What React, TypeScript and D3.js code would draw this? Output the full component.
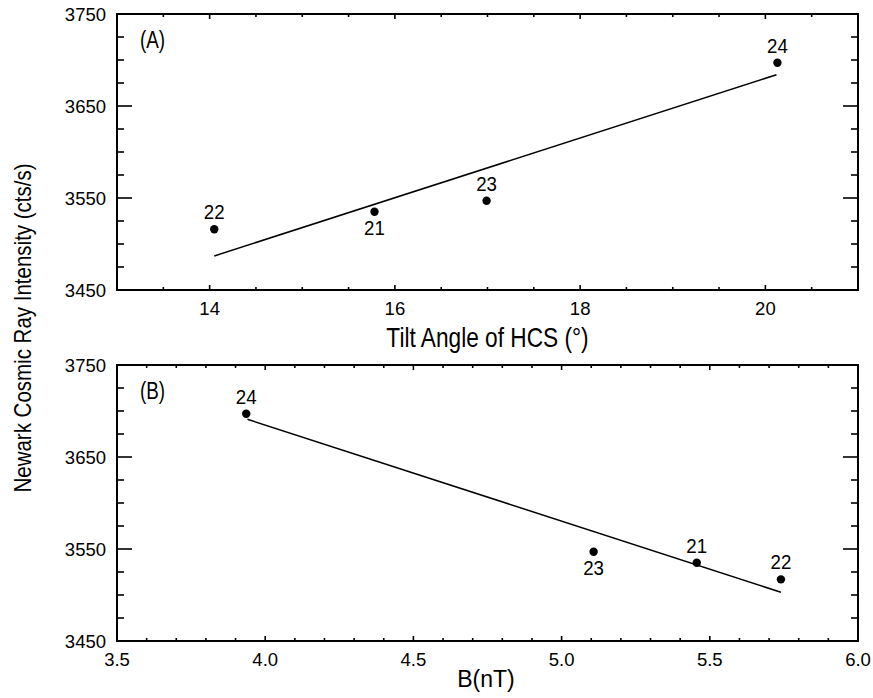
import React from "react";
import * as d3 from "d3";

// Solar cycle numbers labelling each point
const cyclesA = ["21", "22", "23", "24"];
const tiltA = [15.78, 14.05, 16.99, 20.13];
const intensityA = [3535, 3516, 3547, 3697];
const labelBelowA = [true, false, false, false];
const fitA: [number, number][] = [[14.05, 3487], [20.12, 3684]];

const cyclesB = ["21", "22", "23", "24"];
const fieldB = [5.456, 5.74, 5.108, 3.936];
const intensityB = [3535, 3517, 3547, 3697];
const labelBelowB = [false, false, true, false];
const fitB: [number, number][] = [[3.94, 3691], [5.74, 3503]];

const yTicks = [3450, 3550, 3650, 3750];
const xTicksA = [14, 16, 18, 20];
const xTicksB = [3.5, 4.0, 4.5, 5.0, 5.5, 6.0];

const FONT = "'Liberation Sans', Arial, Helvetica, sans-serif";

// Condensed text: font size sets the height, sx narrows the glyphs
function T(props: {
  x: number;
  y: number;
  size: number;
  sx?: number;
  anchor?: "start" | "middle" | "end";
  rotate?: number;
  children: React.ReactNode;
}) {
  const { x, y, size, sx = 1, anchor = "start", rotate = 0, children } = props;
  return (
    <text
      transform={`translate(${x},${y}) rotate(${rotate}) scale(${sx},1)`}
      textAnchor={anchor}
      fontSize={size}
      fontFamily={FONT}
      fill="#000"
    >
      {children}
    </text>
  );
}

type PanelProps = {
  top: number;
  bottom: number;
  xDomain: [number, number];
  xMajor: number[];
  xMinor: number[];
  xFmt: (v: number) => string;
  xs: number[];
  ys: number[];
  cycles: string[];
  below: boolean[];
  fit: [number, number][];
  tag: string;
};

const left = 117;
const right = 858;

function Panel(p: PanelProps) {
  const x = d3.scaleLinear().domain(p.xDomain).range([left, right]);
  const y = d3.scaleLinear().domain([3450, 3750]).range([p.bottom, p.top]);
  const yMinor = d3.range(3450, 3751, 25).filter((v) => (v - 3450) % 100 !== 0);
  const line = d3.line<[number, number]>().x((d) => x(d[0])).y((d) => y(d[1]));
  const tickStroke = { stroke: "#000", strokeWidth: 1.6 };
  return (
    <g>
      {yTicks.map((t) => (
        <g key={"y" + t}>
          <line x1={left} x2={left + 15} y1={y(t)} y2={y(t)} {...tickStroke} />
          <line x1={right} x2={right - 15} y1={y(t)} y2={y(t)} {...tickStroke} />
          <T x={106} y={y(t) + 6.7} size={18.5} anchor="end">
            {t}
          </T>
        </g>
      ))}
      {yMinor.map((t) => (
        <g key={"ym" + t}>
          <line x1={left} x2={left + 7} y1={y(t)} y2={y(t)} {...tickStroke} />
          <line x1={right} x2={right - 7} y1={y(t)} y2={y(t)} {...tickStroke} />
        </g>
      ))}
      {p.xMajor.map((t) => (
        <g key={"x" + t}>
          <line x1={x(t)} x2={x(t)} y1={p.bottom} y2={p.bottom - 5} {...tickStroke} />
          <line x1={x(t)} x2={x(t)} y1={p.top} y2={p.top + 5} {...tickStroke} />
          <T x={x(t)} y={p.bottom + 25} size={18.5} anchor="middle">
            {p.xFmt(t)}
          </T>
        </g>
      ))}
      {p.xMinor.map((t) => (
        <g key={"xm" + t}>
          <line x1={x(t)} x2={x(t)} y1={p.bottom} y2={p.bottom - 3} {...tickStroke} />
          <line x1={x(t)} x2={x(t)} y1={p.top} y2={p.top + 3} {...tickStroke} />
        </g>
      ))}
      <rect x={left} y={p.top} width={right - left} height={p.bottom - p.top} fill="none" stroke="#000" strokeWidth={2} />
      <T x={140} y={p.top + 34} size={23} sx={0.82}>
        {p.tag}
      </T>
      <path d={line(p.fit) || ""} fill="none" stroke="#000" strokeWidth={1.5} />
      {p.xs.map((v, i) => (
        <g key={"p" + i}>
          <circle cx={x(v)} cy={y(p.ys[i])} r={4.2} fill="#000" />
          <T
            x={x(v)}
            y={p.below[i] ? y(p.ys[i]) + 23 : y(p.ys[i]) - 10}
            size={21}
            sx={0.89}
            anchor="middle"
          >
            {p.cycles[i]}
          </T>
        </g>
      ))}
    </g>
  );
}

export default function App() {
  const minorA = d3.range(13.5, 21, 0.5).filter((v) => Math.abs(v % 2) > 1e-6);
  const minorB = d3.range(3.6, 6.0, 0.1).filter((v) => Math.abs(Math.round(v * 10) % 5) !== 0);
  return (
    <svg width={873} height={698} style={{ position: "absolute", left: 0, top: 0 }}>
      <rect width={873} height={698} fill="#fff" />
      <Panel
        top={14}
        bottom={290}
        xDomain={[13, 21]}
        xMajor={xTicksA}
        xMinor={minorA}
        xFmt={(v) => String(v)}
        xs={tiltA}
        ys={intensityA}
        cycles={cyclesA}
        below={labelBelowA}
        fit={fitA}
        tag="(A)"
      />
      <T x={487.5} y={347} size={28} sx={0.81} anchor="middle">
        Tilt Angle of HCS (°)
      </T>
      <Panel
        top={365}
        bottom={641}
        xDomain={[3.5, 6.0]}
        xMajor={xTicksB}
        xMinor={minorB}
        xFmt={(v) => v.toFixed(1)}
        xs={fieldB}
        ys={intensityB}
        cycles={cyclesB}
        below={labelBelowB}
        fit={fitB}
        tag="(B)"
      />
      <T x={486} y={687} size={23} anchor="middle">
        B(nT)
      </T>
      <T x={31} y={328} size={23.3} sx={0.88} anchor="middle" rotate={-90}>
        Newark Cosmic Ray Intensity (cts/s)
      </T>
    </svg>
  );
}
